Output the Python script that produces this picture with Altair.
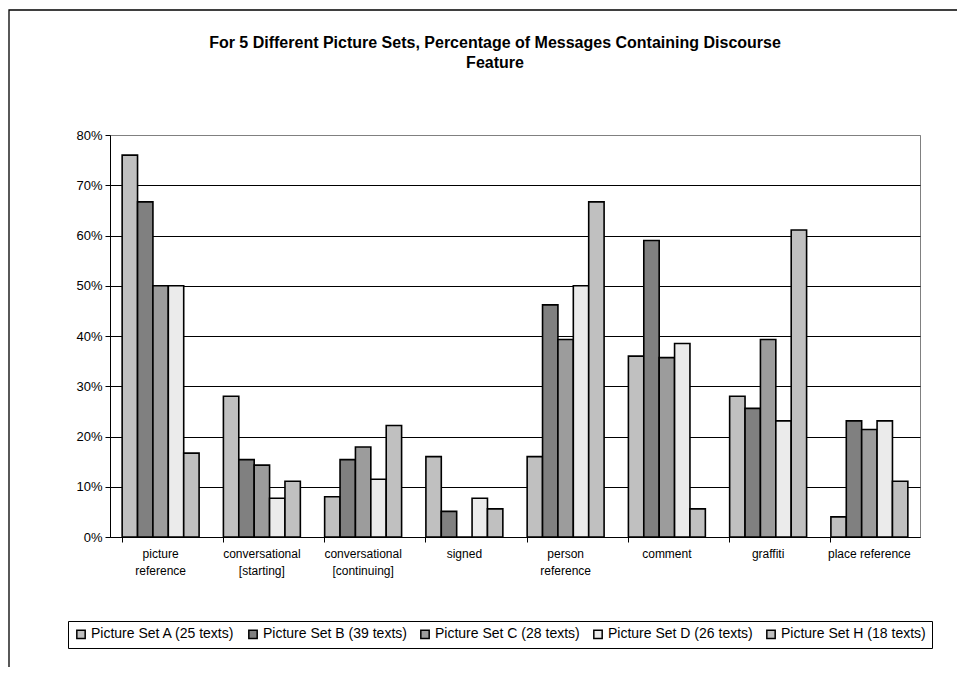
import altair as alt
import pandas as pd

categories = ["picture|reference", "conversational|[starting]", "conversational|[continuing]",
              "signed", "person|reference", "comment", "graffiti", "place reference"]
series = ["Picture Set A (25 texts)", "Picture Set B (39 texts)", "Picture Set C (28 texts)",
          "Picture Set D (26 texts)", "Picture Set H (18 texts)"]
set_a = [76.0, 28.0, 8.0, 16.0, 16.0, 36.0, 28.0, 4.0]
set_b = [66.7, 15.4, 15.4, 5.1, 46.2, 59.0, 25.6, 23.1]
set_c = [50.0, 14.3, 17.9, 0.0, 39.3, 35.7, 39.3, 21.4]
set_d = [50.0, 7.7, 11.5, 7.7, 50.0, 38.5, 23.1, 23.1]
set_h = [16.7, 11.1, 22.2, 5.6, 66.7, 5.6, 61.1, 11.1]
colors = ["#c0c0c0", "#808080", "#9c9c9c", "#ebebeb", "#c0c0c0"]
y_ticks = [0, 10, 20, 30, 40, 50, 60, 70, 80]

rows = []
for s, vals in zip(series, [set_a, set_b, set_c, set_d, set_h]):
    for c, v in zip(categories, vals):
        rows.append({"feature": c, "set": s, "pct": v})
df = pd.DataFrame(rows)

FONT = "Liberation Sans"

bars = alt.Chart(df).mark_bar(stroke="black", strokeWidth=1.6).encode(
    x=alt.X("feature:N", sort=categories, title=None,
            scale=alt.Scale(paddingInner=0.24, paddingOuter=0.12),
            axis=alt.Axis(labelExpr="split(datum.label, '|')", labelAngle=0,
                          labelFontSize=12, labelFont=FONT, labelColor="black",
                          labelLineHeight=17, labelPadding=6,
                          bandPosition=0, tickSize=5, tickColor="black",
                          domainColor="black", labelBaseline="top")),
    xOffset=alt.XOffset("set:N", sort=series),
    y=alt.Y("pct:Q", title=None, scale=alt.Scale(domain=[0, 80], nice=False),
            axis=alt.Axis(values=y_ticks, labelExpr="datum.value + '%'",
                          labelFontSize=13, labelFont=FONT, labelColor="black",
                          labelPadding=3, tickSize=5, tickColor="black",
                          domainColor="black",
                          grid=True,
                          gridColor={"condition": {"test": "datum.value >= 80", "value": "#808080"},
                                     "value": "#000000"},
                          gridWidth=1)),
    fill=alt.Fill("set:N", sort=series,
                  scale=alt.Scale(domain=series, range=colors),
                  legend=alt.Legend(title=None, orient="none", legendX=-42, legendY=486,
                                    direction="horizontal", columns=5,
                                    symbolType="square", symbolSize=70,
                                    symbolStrokeColor="black", symbolStrokeWidth=1.5,
                                    labelFont=FONT, labelFontSize=14, labelColor="black",
                                    labelOffset=3, columnPadding=10,
                                    padding=6, strokeColor="black", fillColor="white")),
)

frame = alt.Chart(alt.Data(values=[{}])).mark_rect(
    fill=None, stroke="black", strokeWidth=1.3
).encode(
    x=alt.value(-101), x2=alt.value(900), y=alt.value(-125), y2=alt.value(700)
)

chart = alt.layer(frame, bars).properties(
    width=810, height=402,
    autosize=alt.AutoSizeParams(type="none"),
    padding={"left": 102, "top": 127, "right": 37, "bottom": 130},
    title=alt.TitleParams(
        text=["For 5 Different Picture Sets, Percentage of Messages Containing Discourse", "Feature"],
        font=FONT, fontSize=16, fontWeight="bold", color="black",
        anchor="middle", frame="group", dx=-20, offset=-78, lineHeight=20,
        baseline="bottom"),
).configure_view(stroke="#808080", strokeWidth=1)

chart.save("out.html", embed_options={"renderer": "svg", "actions": False})
